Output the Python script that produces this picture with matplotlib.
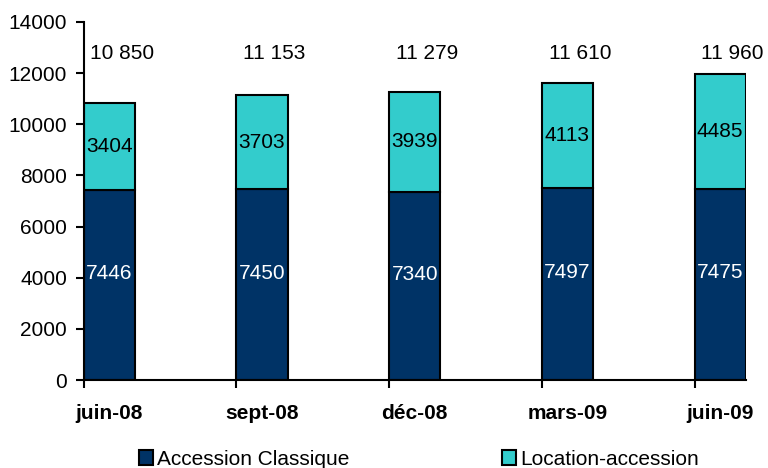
import matplotlib.pyplot as plt

periods = ["juin-08", "sept-08", "déc-08", "mars-09", "juin-09"]
classique = [7446, 7450, 7340, 7497, 7475]
location = [3404, 3703, 3939, 4113, 4485]
totals = ["10 850", "11 153", "11 279", "11 610", "11 960"]
series_names = ["Accession Classique", "Location-accession"]


def main():
    plt.rcParams["font.family"] = ["Liberation Sans", "DejaVu Sans"]
    plt.rcParams["font.size"] = 15

    fig = plt.figure(figsize=(7.68, 4.68), dpi=100)
    ax = fig.add_axes([0.109, 0.188, 0.862, 0.765])

    width = 0.335
    xs = list(range(len(periods)))
    navy = "#003366"
    cyan = "#33CCCC"

    b1 = ax.bar(xs, classique, width, align="edge", color=navy,
                edgecolor="black", linewidth=1.5, label=series_names[0])
    b2 = ax.bar(xs, location, width, bottom=classique, align="edge", color=cyan,
                edgecolor="black", linewidth=1.5, label=series_names[1])

    for i in xs:
        cx = i + width / 2
        ax.text(cx, classique[i] * 0.56, str(classique[i]), color="white",
                ha="center", va="center")
        ax.text(cx, classique[i] + location[i] / 2, str(location[i]), color="black",
                ha="center", va="center")
        ax.text(i + 0.25, 12750, totals[i], ha="center", va="center")

    ax.set_ylim(0, 14000)
    ax.set_yticks(range(0, 14001, 2000))
    ax.set_xlim(0, len(periods) - 1 + width)

    ax.set_xticks(xs)
    ax.set_xticklabels([])
    ax.set_xticks([i + width / 2 for i in xs], minor=True)
    ax.set_xticklabels(periods, minor=True, fontweight="bold")
    ax.tick_params(axis="x", which="major", length=6, width=1.5)
    ax.tick_params(axis="x", which="minor", length=0, pad=17)
    ax.tick_params(axis="y", length=6, width=1.5, pad=6)

    for side in ["top", "right"]:
        ax.spines[side].set_visible(False)
    for side in ["left", "bottom"]:
        ax.spines[side].set_linewidth(1.5)

    fig.legend(handles=[b1, b2], loc="center", bbox_to_anchor=(0.5456, 0.019),
               ncol=2, frameon=False, handlelength=0.7, handleheight=0.7,
               handletextpad=0.2, columnspacing=7.3, borderpad=0)

    plt.savefig("out.png", dpi=100)


if __name__ == "__main__":
    main()
